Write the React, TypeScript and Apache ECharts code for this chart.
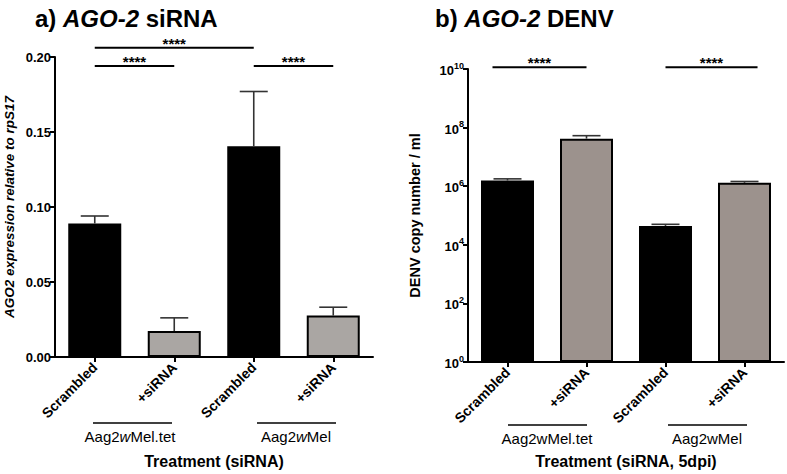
import React, { useEffect, useRef } from "react";
import * as echarts from "echarts";

const categories = ["Scrambled", "+siRNA", "Scrambled", "+siRNA"];
const agoMean = [0.089, 0.0173, 0.1405, 0.0276];
const agoUpper = [0.094, 0.0261, 0.177, 0.0332];
const denvMean = [1.56e6, 4.2e7, 4.4e4, 1.3e6];
const denvUpper = [1.78e6, 5.3e7, 5.0e4, 1.45e6];
const agoTicks = [0, 0.05, 0.1, 0.15, 0.2];
const groupLabels = ["Aag2{i|w}Mel.tet", "Aag2{i|w}Mel"];
const groupLabelsB = ["Aag2wMel.tet", "Aag2wMel"];
// significance brackets: [fromCategory, toCategory, level]
const sigA = [
  [0, 2, 0.2062],
  [0, 1, 0.194],
  [2, 3, 0.194],
];
const sigB = [
  [0, 1, 1.15e10],
  [2, 3, 1.15e10],
];
const sigMark = "****";

const FONT = "Liberation Sans, Arial, Helvetica, sans-serif";
const GREY_A = "#aaa6a3";
const GREY_B = "#9c928d";
const barColorsA = ["#000", GREY_A, "#000", GREY_A];
const barColorsB = ["#000", GREY_B, "#000", GREY_B];
// bracket end offsets in chart b (fraction of band)
const sigBOffsets = [
  [-0.19, 0],
  [0, 0.165],
];

function errRender(params: any, api: any) {
  const base = api.coord([api.value(0), api.value(1)]);
  const top = api.coord([api.value(0), api.value(2)]);
  const half = 14;
  const st = { stroke: "#333", lineWidth: 1.6 };
  return {
    type: "group",
    children: [
      { type: "line", shape: { x1: base[0], y1: base[1], x2: top[0], y2: top[1] }, style: st },
      { type: "line", shape: { x1: top[0] - half, y1: top[1], x2: top[0] + half, y2: top[1] }, style: st },
    ],
  };
}

function sigRender(offsets: number[][] | null) {
  return (params: any, api: any) => {
    const from = api.value(0);
    const to = api.value(1);
    const p1 = api.coord([from, api.value(2)]);
    const p2 = api.coord([to, api.value(2)]);
    const band = (p2[0] - p1[0]) / (to - from);
    const off = offsets ? offsets[params.dataIndex] : [0, 0];
    const x1 = p1[0] + off[0] * band;
    const x2 = p2[0] + off[1] * band;
    const y = p1[1];
    return {
      type: "group",
      children: [
        { type: "line", shape: { x1, y1: y, x2, y2: y }, style: { stroke: "#000", lineWidth: 2 } },
        {
          type: "text",
          x: (x1 + x2) / 2,
          y: y + 3,
          style: {
            text: sigMark,
            fontSize: 15,
            fontWeight: "bold",
            fontFamily: FONT,
            fill: "#000",
            align: "center",
            verticalAlign: "bottom",
          },
        },
      ],
    };
  };
}

const axisLine = { show: true, lineStyle: { color: "#000", width: 2 } };
const axisTick = { show: true, length: 5, lineStyle: { color: "#000", width: 2 } };

export default function App() {
  const ref = useRef<HTMLDivElement>(null);
  useEffect(() => {
    if (!ref.current) return;
    const chart = echarts.init(ref.current, null, { renderer: "svg" });
    const xLabel = {
      rotate: 45,
      fontSize: 14,
      fontWeight: "bold",
      fontFamily: FONT,
      color: "#000",
      margin: 8,
      interval: 0,
    };
    const titleRich = {
      n: { fontSize: 24, fontWeight: "bold", fontFamily: FONT, color: "#000" },
      i: { fontSize: 24, fontWeight: "bold", fontStyle: "italic", fontFamily: FONT, color: "#000" },
    };
    const groupText = (x: number, y: number, t: string) => ({
      type: "text",
      x,
      y,
      style: {
        text: t,
        fontSize: 15,
        fontFamily: FONT,
        fill: "#000",
        align: "center",
        verticalAlign: "middle",
        rich: {
          i: { fontSize: 15, fontStyle: "italic", fontFamily: FONT, fill: "#000" },
        },
      },
    });
    const gLine = (x1: number, x2: number, y: number) => ({
      type: "line",
      shape: { x1, y1: y, x2, y2: y },
      style: { stroke: "#000", lineWidth: 1.5 },
    });
    chart.setOption({
      animation: false,
      backgroundColor: "#fff",
      title: [
        {
          text: "{n|a) }{i|AGO-2}{n| siRNA}",
          left: 30,
          top: 1,
          textStyle: { rich: titleRich },
        },
        {
          text: "{n|b) }{i|AGO-2}{n| DENV}",
          left: 430,
          top: 1,
          textStyle: { rich: titleRich },
        },
      ],
      grid: [
        { left: 55, top: 57, width: 318, height: 301 },
        { left: 468, top: 69, width: 316, height: 294 },
      ],
      xAxis: [
        {
          type: "category",
          gridIndex: 0,
          data: categories,
          axisLine,
          axisTick: { ...axisTick, alignWithLabel: true },
          axisLabel: xLabel,
          name: "Treatment (siRNA)",
          nameLocation: "middle",
          nameGap: 96,
          nameTextStyle: { fontSize: 16, fontWeight: "bold", fontFamily: FONT, color: "#000" },
        },
        {
          type: "category",
          gridIndex: 1,
          data: categories,
          axisLine,
          axisTick: { ...axisTick, alignWithLabel: true },
          axisLabel: xLabel,
          name: "Treatment (siRNA, 5dpi)",
          nameLocation: "middle",
          nameGap: 91,
          nameTextStyle: { fontSize: 16, fontWeight: "bold", fontFamily: FONT, color: "#000" },
        },
      ],
      yAxis: [
        {
          type: "value",
          gridIndex: 0,
          min: agoTicks[0],
          max: agoTicks[agoTicks.length - 1],
          interval: 0.05,
          axisLine,
          axisTick,
          splitLine: { show: false },
          axisLabel: {
            fontSize: 13,
            fontWeight: "bold",
            fontFamily: FONT,
            color: "#000",
            margin: 4,
            formatter: (v: number) => v.toFixed(2),
          },
          name: "AGO2 expression relative to rpS17",
          nameLocation: "middle",
          nameGap: 39,
          nameTextStyle: {
            fontSize: 13.5,
            fontWeight: "bold",
            fontStyle: "italic",
            fontFamily: FONT,
            color: "#000",
          },
        },
        {
          type: "log",
          logBase: 100,
          gridIndex: 1,
          min: 1,
          max: 1e10,
          axisLine,
          axisTick,
          splitLine: { show: false },
          minorTick: { show: false },
          axisLabel: {
            fontFamily: FONT,
            color: "#000",
            margin: 4,
            formatter: (v: number) => "{b|10}{s|" + Math.round(Math.log10(v)) + "}",
            rich: {
              b: { fontSize: 13, fontWeight: "bold", fontFamily: FONT, color: "#000", lineHeight: 16, verticalAlign: "bottom" },
              s: { fontSize: 9, fontWeight: "bold", fontFamily: FONT, color: "#000", lineHeight: 16, verticalAlign: "top" },
            },
          },
          name: "DENV copy number / ml",
          nameLocation: "middle",
          nameGap: 46,
          nameTextStyle: { fontSize: 14.5, fontWeight: "bold", fontFamily: FONT, color: "#000" },
        },
      ],
      series: [
        {
          type: "bar",
          xAxisIndex: 0,
          yAxisIndex: 0,
          barWidth: 53,
          data: agoMean.map((v, i) => ({
            value: v,
            itemStyle: { color: barColorsA[i], borderColor: "#000", borderWidth: 2 },
          })),
        },
        {
          type: "custom",
          xAxisIndex: 0,
          yAxisIndex: 0,
          z: 3,
          clip: false,
          renderItem: errRender,
          data: agoMean.map((v, i) => [i, v, agoUpper[i]]),
        },
        {
          type: "custom",
          xAxisIndex: 0,
          yAxisIndex: 0,
          z: 3,
          clip: false,
          renderItem: sigRender(null),
          data: sigA,
        },
        {
          type: "bar",
          xAxisIndex: 1,
          yAxisIndex: 1,
          barWidth: 53,
          data: denvMean.map((v, i) => ({
            value: v,
            itemStyle: { color: barColorsB[i], borderColor: "#000", borderWidth: 2 },
          })),
        },
        {
          type: "custom",
          xAxisIndex: 1,
          yAxisIndex: 1,
          z: 3,
          clip: false,
          renderItem: errRender,
          data: denvMean.map((v, i) => [i, v, denvUpper[i]]),
        },
        {
          type: "custom",
          xAxisIndex: 1,
          yAxisIndex: 1,
          z: 3,
          clip: false,
          renderItem: sigRender(sigBOffsets),
          data: sigB,
        },
      ],
      graphic: [
        gLine(93, 172, 423),
        groupText(130, 436, groupLabels[0]),
        gLine(257, 336, 423),
        groupText(296, 436, groupLabels[1]),
        gLine(508, 587, 425),
        groupText(547, 438, groupLabelsB[0]),
        gLine(668, 747, 425),
        groupText(707, 438, groupLabelsB[1]),
      ],
    });
    return () => chart.dispose();
  }, []);
  return (
    <div
      ref={ref}
      style={{ position: "fixed", left: 0, top: 0, width: 787, height: 474, background: "#fff" }}
    />
  );
}
